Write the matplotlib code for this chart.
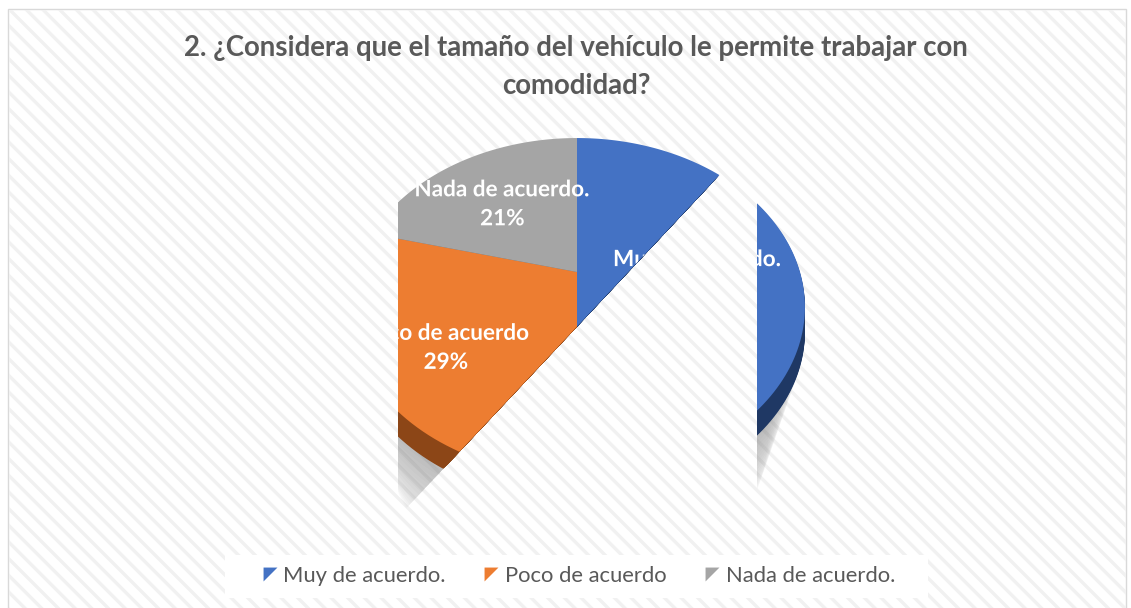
import numpy as np
import matplotlib
matplotlib.use("Agg")
import matplotlib.pyplot as plt
from matplotlib.transforms import Transform, Affine2D
from matplotlib.path import Path
from matplotlib.patches import Rectangle, Polygon, Circle, PathPatch
from matplotlib.lines import Line2D
from matplotlib.textpath import TextPath
from matplotlib.font_manager import FontProperties

# ---------------- data ----------------
categories = ["Muy de acuerdo.", "Poco de acuerdo", "Nada de acuerdo."]
values = [50, 29, 21]
pct_labels = ["50%", "29%", "21%"]
title_lines = ["2. ¿Considera que el tamaño del vehículo le permite trabajar con",
               "comodidad?"]

top_colors = ["#4472C4", "#ED7D31", "#A5A5A5"]
side_colors = ["#1F3864", "#8C4617", "#6E6E6E"]
text_gray = "#595959"

W, H = 1131, 608
fig = plt.figure(figsize=(W / 100, H / 100), dpi=100)
fig.patch.set_facecolor("white")
ax = fig.add_axes([0, 0, 1, 1])


class Persp(Transform):
    """Perspective view of the pie plane (unit disc) in pixel coordinates."""
    input_dims = 2
    output_dims = 2
    is_separable = False
    has_inverse = False

    def __init__(self, cx, cy, C, A, B):
        super().__init__()
        self.cx, self.cy, self.C, self.A, self.B = cx, cy, C, A, B

    def transform_non_affine(self, xy):
        xy = np.asarray(xy, float).reshape(-1, 2)
        u, v = xy[:, 0], xy[:, 1]
        t = -v
        w = 1 - self.B * t
        return np.column_stack([self.cx + self.C * u / w,
                                self.cy + self.A * t / w])

    def transform_path_non_affine(self, path):
        big = Affine2D().scale(1000).transform_path(path)
        polys = big.to_polygons(closed_only=False)
        verts, codes = [], []
        for p in polys:
            p = np.asarray(p) / 1000.0
            verts.append(self.transform_non_affine(p))
            c = np.full(len(p), Path.LINETO)
            c[0] = Path.MOVETO
            codes.append(c)
        return Path(np.concatenate(verts), np.concatenate(codes))


CX, CY = 577, 272
persp = Persp(CX, CY, 223, 161.7, 0.207)
depth = 25

# background with stripes
bg = Rectangle((8, 9), 1118, 640, facecolor="white", edgecolor="#d9d9d9", lw=1.0, zorder=0)
ax.add_patch(bg)
plt.rcParams["hatch.linewidth"] = 2.4
hatch = Rectangle((8.5, 9.5), 1117, 640, facecolor="none", edgecolor="#f1f1f1",
                  lw=0, hatch="\\\\", zorder=0.1)
ax.add_patch(hatch)

clip = Polygon([(398, 0), (1131, 0), (1131, 517), (757, 517), (757, 135), (398, 517)],
               closed=True, transform=ax.transData, visible=False)
ax.add_patch(clip)


def clipit(artist):
    artist.set_clip_on(True)
    artist.set_clip_path(clip)


# shadow: soft sweep below the pie
for D in np.arange(4, 104, 6):
    sx = 1.0 - D * 0.0016
    tr = (persp + Affine2D().translate(-CX, -CY).scale(sx, 1.0)
          .translate(CX, CY + depth + D) + ax.transData)
    sh = Circle((0, 0), 1.0, facecolor="#7a7a7a", edgecolor="none",
                alpha=0.035, zorder=1, transform=tr)
    ax.add_patch(sh)
    clipit(sh)

# sides
for d in range(depth, 0, -1):
    wedges, _ = ax.pie(values, colors=side_colors, startangle=90, counterclock=False,
                       wedgeprops=dict(linewidth=0))
    for wdg in wedges:
        wdg.set_transform(persp + Affine2D().translate(0, d) + ax.transData)
        wdg.set_zorder(2)
        clipit(wdg)

# top
wedges, _ = ax.pie(values, colors=top_colors, startangle=90, counterclock=False,
                   wedgeprops=dict(linewidth=0))
for wdg in wedges:
    wdg.set_transform(persp + ax.transData)
    wdg.set_zorder(3)
    clipit(wdg)

ax.set_xlim(0, W)
ax.set_ylim(H, 0)
ax.set_aspect("auto")
ax.axis("off")

# labels (as text paths so they can be clipped)
fp_b = FontProperties(family="Lato", weight="bold")
lab_px = 22.5
frac = np.array(values) / np.sum(values)
cum = np.concatenate([[0], np.cumsum(frac)])
r_lab = [0.54, 0.68, 0.60]


def put_text(s, x, y):
    tp = TextPath((0, 0), s, size=lab_px, prop=fp_b)
    ext = tp.get_extents()
    tr = Affine2D().scale(1, -1).translate(x - (ext.x0 + ext.x1) / 2, y + lab_px * 0.36)
    pp = PathPatch(tp, facecolor="white", edgecolor="none", zorder=4,
                   transform=tr + ax.transData)
    ax.add_patch(pp)
    clipit(pp)


for i, (cat, pl) in enumerate(zip(categories, pct_labels)):
    mid = np.deg2rad(90 - 360 * (cum[i] + cum[i + 1]) / 2)
    px, py = persp.transform_non_affine([[r_lab[i] * np.cos(mid), r_lab[i] * np.sin(mid)]])[0]
    put_text(cat, px, py - 14)
    put_text(pl, px, py + 15)

# title
for j, line in enumerate(title_lines):
    ax.text(576, 48 + 38 * j, line, ha="center", va="center", fontsize=19.9,
            fontweight="bold", color=text_gray, family="Lato", zorder=5)

# legend
ax.add_patch(Rectangle((225, 555), 703, 43, facecolor="white", edgecolor="none", zorder=5))
handles = [Line2D([], [], marker=[(-1, 1), (1, 1), (-1, -1)], linestyle="none",
                  markersize=10, color=c, markeredgewidth=0) for c in top_colors]
leg = ax.legend(handles, categories, loc="center", bbox_to_anchor=(579 / W, 1 - 576 / H),
                bbox_transform=fig.transFigure, ncol=3, frameon=False,
                handlelength=0.6, handletextpad=0.3, columnspacing=1.8,
                labelcolor=text_gray, prop=FontProperties(family="Lato", size=15.8))
leg.set_zorder(6)

fig.savefig("out.png", dpi=100, facecolor="white")
